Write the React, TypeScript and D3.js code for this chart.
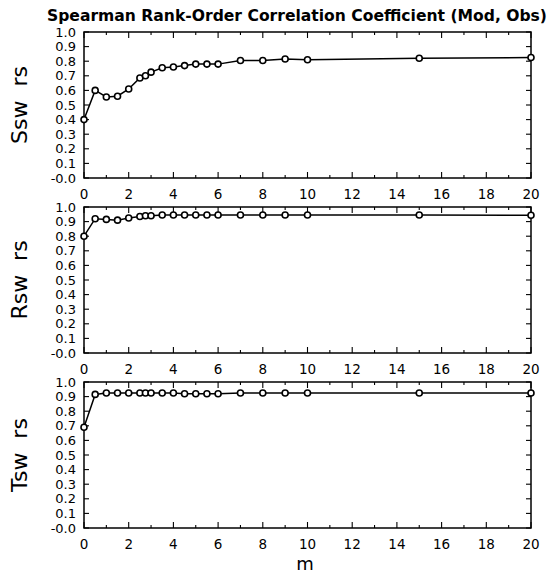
import React from "react";
import * as d3 from "d3";

const mValues = [0, 0.5, 1, 1.5, 2, 2.5, 2.75, 3, 3.5, 4, 4.5, 5, 5.5, 6, 7, 8, 9, 10, 15, 20];
const sswValues = [0.4, 0.6, 0.555, 0.56, 0.61, 0.685, 0.7, 0.725, 0.755, 0.76, 0.77, 0.78, 0.78, 0.78, 0.805, 0.805, 0.815, 0.81, 0.82, 0.825];
const rswValues = [0.8, 0.92, 0.915, 0.91, 0.925, 0.935, 0.94, 0.94, 0.945, 0.945, 0.945, 0.945, 0.945, 0.945, 0.945, 0.945, 0.945, 0.945, 0.945, 0.943];
const tswValues = [0.69, 0.915, 0.925, 0.925, 0.925, 0.925, 0.925, 0.925, 0.925, 0.925, 0.92, 0.92, 0.92, 0.92, 0.925, 0.925, 0.925, 0.925, 0.925, 0.925];
const panelLabels = ["Ssw  rs", "Rsw  rs", "Tsw  rs"];
const xMajorTicks = [0, 2, 4, 6, 8, 10, 12, 14, 16, 18, 20];
const xMinorTicks = [1, 3, 5, 7, 9, 11, 13, 15, 17, 19];
const yTicks = [0, 0.1, 0.2, 0.3, 0.4, 0.5, 0.6, 0.7, 0.8, 0.9, 1.0];
const yTickLabels = ["-0.0", "0.1", "0.2", "0.3", "0.4", "0.5", "0.6", "0.7", "0.8", "0.9", "1.0"];
const titleText = "Spearman Rank-Order Correlation Coefficient (Mod, Obs)";
const xTitle = "m";

const W = 554;
const H = 577;
const LEFT = 84;
const RIGHT = 531;
const PANEL_TOPS = [32, 207, 382];
const PANEL_H = 146;
const FONT = "'DejaVu Sans', sans-serif";

function Panel({ top, values, label }: { top: number; values: number[]; label: string }) {
  const x = d3.scaleLinear().domain([0, 20]).range([LEFT, RIGHT]);
  const y = d3.scaleLinear().domain([0, 1]).range([top + PANEL_H, top]);
  const line = d3
    .line<number>()
    .x((_, i) => x(mValues[i]))
    .y((d) => y(d));
  const bottom = top + PANEL_H;
  return (
    <g>
      <rect x={LEFT} y={top} width={RIGHT - LEFT} height={PANEL_H} fill="none" stroke="#000" strokeWidth={1.5} />
      {xMajorTicks.map((t) => (
        <g key={"xM" + t}>
          <line x1={x(t)} x2={x(t)} y1={bottom} y2={bottom - 6} stroke="#000" strokeWidth={1.1} />
          <line x1={x(t)} x2={x(t)} y1={top} y2={top + 6} stroke="#000" strokeWidth={1.1} />
          <text x={x(t)} y={bottom + 20.5} textAnchor="middle" fontSize={13.5} fontFamily={FONT}>
            {t}
          </text>
        </g>
      ))}
      {xMinorTicks.map((t) => (
        <g key={"xm" + t}>
          <line x1={x(t)} x2={x(t)} y1={bottom} y2={bottom - 3} stroke="#000" strokeWidth={1.1} />
          <line x1={x(t)} x2={x(t)} y1={top} y2={top + 3} stroke="#000" strokeWidth={1.1} />
        </g>
      ))}
      {yTicks.map((t, i) => (
        <g key={"y" + t}>
          <line x1={LEFT} x2={LEFT + 5} y1={y(t)} y2={y(t)} stroke="#000" strokeWidth={1.1} />
          <line x1={RIGHT} x2={RIGHT - 5} y1={y(t)} y2={y(t)} stroke="#000" strokeWidth={1.1} />
          <text x={76} y={y(t)} dy="0.36em" textAnchor="end" fontSize={13} fontFamily={FONT}>
            {yTickLabels[i]}
          </text>
        </g>
      ))}
      <path d={line(values) || ""} fill="none" stroke="#000" strokeWidth={1.5} />
      {values.map((v, i) => (
        <circle key={i} cx={x(mValues[i])} cy={y(v)} r={3} fill="#fff" stroke="#000" strokeWidth={1.6} />
      ))}
      <text
        transform={`translate(27, ${top + PANEL_H / 2}) rotate(-90)`}
        textAnchor="middle"
        fontSize={22}
        fontFamily={FONT}
        style={{ whiteSpace: "pre" }}
      >
        {label}
      </text>
    </g>
  );
}

export default function App() {
  const series = [sswValues, rswValues, tswValues];
  return (
    <svg width={W} height={H} style={{ position: "absolute", left: 0, top: 0, background: "#fff" }}>
      <rect x={0} y={0} width={W} height={H} fill="#fff" />
      <text x={47} y={20.5} fontSize={15} fontWeight="bold" fontFamily={FONT} textLength={500} lengthAdjust="spacingAndGlyphs">
        {titleText}
      </text>
      {series.map((s, i) => (
        <Panel key={i} top={PANEL_TOPS[i]} values={s} label={panelLabels[i]} />
      ))}
      <text x={305} y={570} textAnchor="middle" fontSize={18} fontFamily={FONT}>
        {xTitle}
      </text>
    </svg>
  );
}
